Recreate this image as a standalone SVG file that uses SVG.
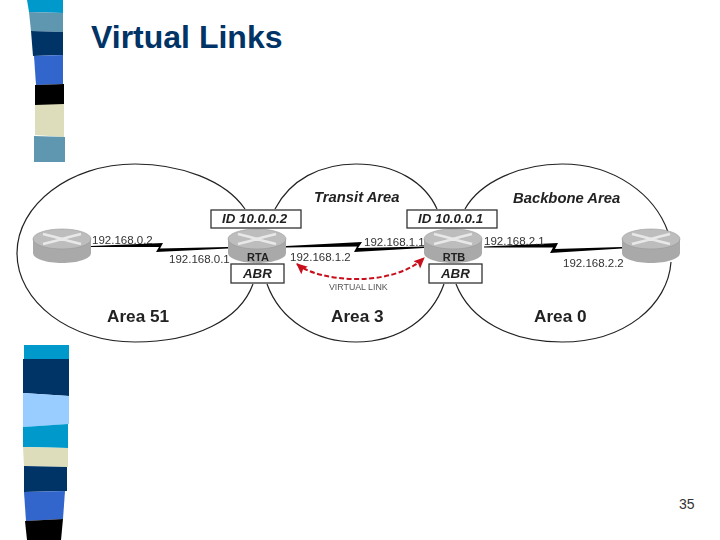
<svg xmlns="http://www.w3.org/2000/svg" width="720" height="540" viewBox="0 0 720 540">
<style>
text{font-family:"Liberation Sans",Arial,sans-serif}
.title{font-size:32px;font-weight:bold;fill:#003366}
.ip{font-size:11.5px;fill:#333}
.area{font-size:17.2px;font-weight:bold;fill:#222}
.it{font-size:13.3px;font-weight:bold;font-style:italic;fill:#222}
.cap{font-size:14.8px;font-weight:bold;font-style:italic;fill:#222}
.rn{font-size:11px;font-weight:bold;fill:#222;text-anchor:middle}
.box{fill:#fff;stroke:#333;stroke-width:1.3}
.ring{fill:none;stroke:#222;stroke-width:1.2}
.body{fill:#a9a9a9}
.top{fill:#bdbdbd;stroke:#999;stroke-width:.6}
.x{fill:none;stroke:#e8e8e8;stroke-width:2.6}
.lnk{fill:#000}
</style>
<defs>
<filter id="soft" x="-2%" y="-2%" width="104%" height="104%"><feGaussianBlur stdDeviation="0.35"/></filter>
<marker id="redhead" markerWidth="12" markerHeight="12" refX="10" refY="5" orient="auto-start-reverse" markerUnits="userSpaceOnUse"><path d="M0,0 L11,5 L0,10 L2,5 Z" fill="#c8101a"/></marker>
<g id="router"><path class="body" d="M-29,0 V14 C-29,20 -15,24 0,24 C15,24 29,20 29,14 V0 Z"/><ellipse class="top" cx="0" cy="0" rx="29" ry="10"/><path class="x" d="M-19,-5 L-7,-2 M-19,5 L-7,2 M19,-5 L7,-2 M19,5 L7,2 M-7,-2 L7,2 M-7,2 L7,-2"/></g>
</defs>
<g id="stripes-top">
<polygon fill="#0099cc" points="27,0 63,0 63,13 29,12"/>
<polygon fill="#5f96b0" points="29,12 63,13 63,32 31,31"/>
<polygon fill="#003366" points="31,31 63,32 63,55 33,56"/>
<polygon fill="#3366cc" points="34,56 63,55 63,84 36,85"/>
<polygon fill="#000" points="35,85 64,84 64,105 35,105"/>
<polygon fill="#ddddbb" points="35,105 64,104 64,137 35,135"/>
<polygon fill="#5f96b0" points="34,136 65,137 65,162 34,162"/>
</g>
<g id="stripes-bottom">
<polygon fill="#0099cc" points="24,345 69,345 69,359 24,359"/>
<polygon fill="#003366" points="23,359 69,359 69,396 23,393"/>
<polygon fill="#99ccff" points="23,393 69,396 69,424 23,427"/>
<polygon fill="#0099cc" points="23,427 68,424 68,448 23,447"/>
<polygon fill="#ddddbb" points="23,447 68,448 68,467 24,466"/>
<polygon fill="#003366" points="24,466 67,467 67,491 24,492"/>
<polygon fill="#3366cc" points="24,492 65,491 63,519 26,521"/>
<polygon fill="#000" points="25,521 63,519 61,540 27,540"/>
</g>
<text class="title" x="91" y="48">Virtual Links</text>
<text x="679" y="509" font-size="14" fill="#333">35</text>
<g filter="url(#soft)">
<g id="connectors">
<path class="ring" d="M245,209 C225,180 180,164 135,164 C70,164 17,205 17,253 C17,302 70,342 135,342 C195,342 240,320 253,284"/>
<path class="ring" d="M275,209 C290,180 320,164 356,164 C395,164 425,182 437,209"/>
<path class="ring" d="M267,284 C280,320 315,342 356,342 C400,342 432,318 444,284"/>
<path class="ring" d="M465,209 C480,182 520,164 562,164 C615,164 655,195 668,232"/>
<path class="ring" d="M456,284 C470,320 510,342 562,342 C625,342 668,305 671,262"/>
<polygon class="lnk" points="91,246 163,243 160,248.5 228,247 228,248.5 156,252 159,247 91,247"/>
<polygon class="lnk" points="286,246 362,242 358,248 424,246.5 424,248 354,252 357,246.5 286,247.5"/>
<polygon class="lnk" points="484,246.5 558,243 555,249 622,247 622,248.5 550,253 553,247.5 484,247.5"/>
<path d="M297,264 C318,282 392,288 424,258" fill="none" stroke="#c8101a" stroke-width="2" stroke-dasharray="5 2.5" marker-start="url(#redhead)" marker-end="url(#redhead)"/>
</g>
<g id="router-left"><use href="#router" x="62" y="239"/></g>
<g id="router-rta"><use href="#router" x="257" y="239"/><text class="rn" x="258" y="261">RTA</text></g>
<g id="router-rtb"><use href="#router" x="453" y="239"/><text class="rn" x="454" y="261">RTB</text></g>
<g id="router-right"><use href="#router" x="651" y="239"/></g>
<g id="box-id-a"><rect class="box" x="211" y="210" width="90" height="18"/><text class="it" x="222" y="223">ID 10.0.0.2</text></g>
<g id="box-abr-a"><rect class="box" x="231" y="264" width="53" height="19"/><text class="it" x="243" y="278">ABR</text></g>
<g id="box-id-b"><rect class="box" x="407" y="210" width="90" height="18"/><text class="it" x="418" y="223">ID 10.0.0.1</text></g>
<g id="box-abr-b"><rect class="box" x="429" y="264" width="53" height="19"/><text class="it" x="441" y="278">ABR</text></g>
<g id="labels">
<text class="ip" x="92" y="244">192.168.0.2</text>
<text class="ip" x="169" y="263">192.168.0.1</text>
<text class="ip" x="290" y="261">192.168.1.2</text>
<text class="ip" x="364" y="246">192.168.1.1</text>
<text class="ip" x="484" y="245">192.168.2.1</text>
<text class="ip" x="563" y="267">192.168.2.2</text>
<text class="cap" x="314" y="202">Transit Area</text>
<text class="cap" x="513" y="203">Backbone Area</text>
<text class="area" x="107" y="322">Area 51</text>
<text class="area" x="331" y="322">Area 3</text>
<text class="area" x="534" y="322">Area 0</text>
<text x="329" y="290" font-size="8.8" fill="#555">VIRTUAL LINK</text>
</g>
</g>
</svg>
